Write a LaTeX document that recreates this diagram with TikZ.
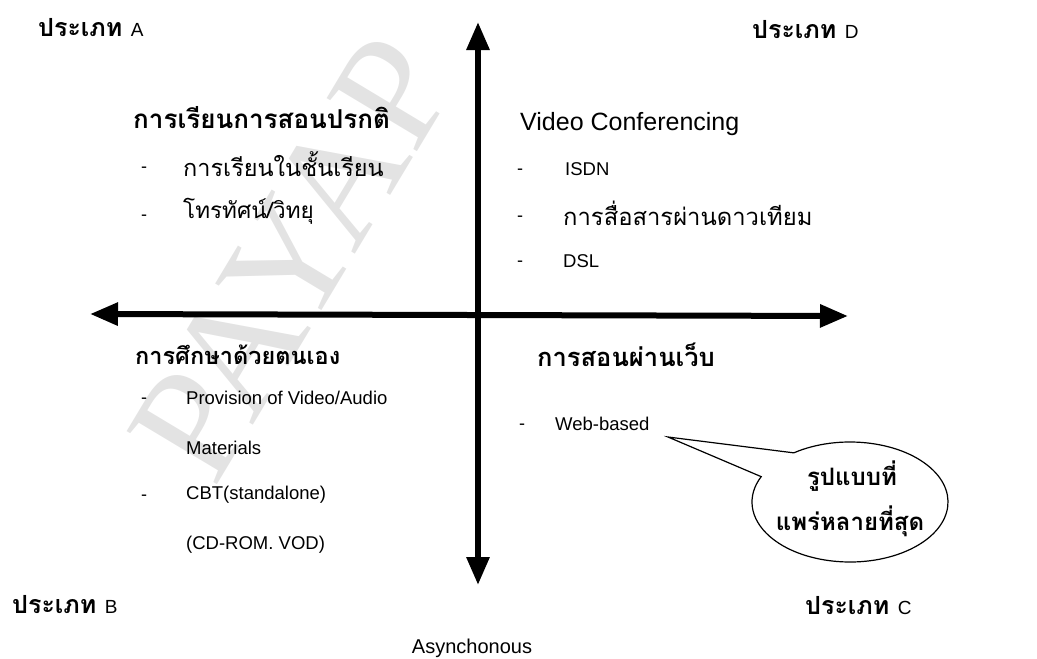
\documentclass[tikz,border=0pt]{standalone}
\usepackage{fontspec}
\setmainfont{Liberation Sans}
\newfontfamily\thai[Script=Thai]{Loma}
\newfontfamily\wmfont{Liberation Serif}
\usetikzlibrary{arrows.meta}
\newcommand{\fsz}[1]{\fontsize{#1}{#1}\selectfont}
\tikzset{
  axis/.style={line width=6pt, {Triangle[length=28pt,width=22pt]}-{Triangle[length=28pt,width=22pt]}},
  cornerlbl/.style={anchor=west, inner sep=0pt, font=\thai\bfseries\fsz{25}},
  thaihead/.style={anchor=west, inner sep=0pt, font=\thai\bfseries\fsz{26}},
  thaiitem/.style={anchor=west, inner sep=0pt, font=\thai\fsz{23.5}},
  latinhead/.style={anchor=west, inner sep=0pt, font=\fsz{25}},
  latinitem/.style={anchor=west, inner sep=0pt, font=\fsz{18.5}},
  bullet/.style={anchor=west, inner sep=0pt, font=\fsz{18}},
  callout/.style={draw, line width=1.2pt, fill=white},
  callouttext/.style={inner sep=0pt, font=\thai\bfseries\fsz{24}},
}
\begin{document}
\begin{tikzpicture}[x=1pt,y=-1pt]
\useasboundingbox (0,0) rectangle (1037,659);
% watermark
\node[rotate=59, text=gray!22, inner sep=0pt, font=\wmfont\fsz{160}] (wm) at (292,258) {PAYAP};
% axes
\coordinate (top) at (478,22);
\coordinate (bottom) at (478,585);
\coordinate (left) at (90,314);
\coordinate (right) at (848,316);
\draw[axis] (bottom) -- (top);
\draw[axis] (left) -- (right);
% corner labels
\node[cornerlbl] (ta) at (38,28) {ประเภท {\normalfont\fsz{19}A}};
\node[cornerlbl] (td) at (752,30) {ประเภท {\normalfont\fsz{19}D}};
\node[cornerlbl] (tb) at (12,605) {ประเภท {\normalfont\fsz{19}B}};
\node[cornerlbl] (tc) at (805,606) {ประเภท {\normalfont\fsz{19}C}};
\node[inner sep=0pt, font=\fsz{20}] (asyn) at (472,648) {Asynchonous};
% quadrant A
\node[thaihead] (ah) at (133,118) {การเรียนการสอนปรกติ};
\node[bullet] (ab1) at (141,170) {-};
\node[thaiitem] (ai1) at (183,164) {การเรียนในชั้นเรียน};
\node[bullet] (ab2) at (141,218) {-};
\node[thaiitem, font=\thai\fsz{22.5}] (ai2) at (183,211) {โทรทัศน์/วิทยุ};
% quadrant D
\node[latinhead] (dh) at (520,124) {Video Conferencing};
\node[bullet] (db1) at (517,172) {-};
\node[latinitem] (di1) at (565,169) {ISDN};
\node[bullet] (db2) at (517,219) {-};
\node[thaiitem, font=\thai\fsz{23.8}] (di2) at (563,213) {การสื่อสารผ่านดาวเทียม};
\node[bullet] (db3) at (517,264) {-};
\node[latinitem] (di3) at (563,261) {DSL};
% quadrant B
\node[thaihead, font=\thai\bfseries\fsz{23.5}] (bh) at (135,355) {การศึกษาด้วยตนเอง};
\node[bullet] (bb1) at (141,401) {-};
\node[latinitem] (bi1) at (186,398) {Provision of Video/Audio};
\node[latinitem] (bi2) at (186,448) {Materials};
\node[bullet] (bb2) at (141,498) {-};
\node[latinitem] (bi3) at (186,495) {CBT(standalone)};
\node[latinitem] (bi4) at (186,545) {(CD-ROM. VOD)};
% quadrant C
\node[thaihead, font=\thai\bfseries\fsz{25.5}] (ch) at (537,355) {การสอนผ่านเว็บ};
\node[bullet] (cb1) at (519,427) {-};
\node[latinitem] (ci1) at (555,424) {Web-based};
% callout
\coordinate (cc) at (850,502);
\coordinate (tip) at (668,437);
\draw[callout] (tip) -- ([shift={(125:98pt and 60pt)}]cc) arc[start angle=125, end angle=-205, x radius=98pt, y radius=60pt] -- cycle;
\node[callouttext] (ct1) at (852,476) {รูปแบบที่};
\node[callouttext] (ct2) at (850,521) {แพร่หลายที่สุด};
\end{tikzpicture}
\end{document}
